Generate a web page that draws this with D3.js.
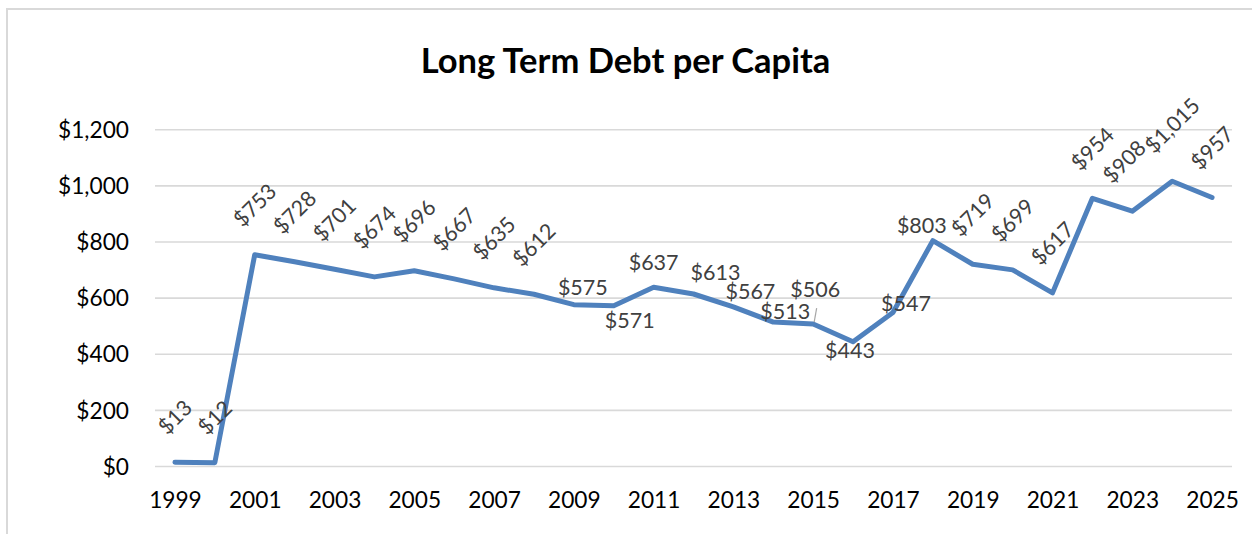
<!DOCTYPE html>
<html><head><meta charset="utf-8">
<script src="https://cdn.jsdelivr.net/npm/d3@7"></script>
<style>
body{margin:0;background:#fff}
svg{display:block;font-family:Lato,'Open Sans',sans-serif}
</style>
</head><body>
<svg id="chart" width="1252" height="534"></svg>
<script>
// ---- data ----
const years = [1999,2000,2001,2002,2003,2004,2005,2006,2007,2008,2009,2010,2011,2012,2013,2014,2015,2016,2017,2018,2019,2020,2021,2022,2023,2024,2025];
const debtPerCapita = [13,12,753,728,701,674,696,667,635,612,575,571,637,613,567,513,506,443,547,803,719,699,617,954,908,1015,957];
const yTickValues = [0,200,400,600,800,1000,1200];
const xTickYears = [1999,2001,2003,2005,2007,2009,2011,2013,2015,2017,2019,2021,2023,2025];
const chartTitle = "Long Term Debt per Capita";

// ---- layout / style (not data) ----
const plot = {left:155, right:1232, top:129.3, bottom:466};
const lineColor = "#4f81bd";
const gridColor = "#d9d9d9";
const labelFs = 21.5, tickFs = 22.7;
// horizontal labels with offsets of their centre from the point; others are rotated
const horizLabels = {
  2009:{dx:9,dy:-17.5}, 2010:{dx:16,dy:14}, 2011:{dx:0,dy:-25}, 2012:{dx:22,dy:-22},
  2013:{dx:17,dy:-16}, 2014:{dx:12,dy:-10.5}, 2015:{dx:2,dy:-35,leader:true},
  2016:{dx:-3,dy:8.5}, 2017:{dx:13,dy:-9}, 2018:{dx:-11,dy:-15.5}
};
const rotShift = {2023:-8};

const svg = d3.select("#chart");
const fmt = d3.format("$,");

// border
svg.append("rect").attr("x",7).attr("y",9).attr("width",1400).attr("height",700)
  .attr("fill","#fff").attr("stroke",gridColor).attr("stroke-width",2);

const x = d3.scalePoint().domain(years).range([plot.left, plot.right]).padding(0.5);
const y = d3.scaleLinear().domain([0,1200]).range([plot.bottom, plot.top]);

// y axis with gridlines
const yAxis = svg.append("g").attr("transform",`translate(${plot.left},0)`)
  .call(d3.axisLeft(y).tickValues(yTickValues).tickFormat(fmt)
        .tickSize(-(plot.right-plot.left)).tickPadding(26));
yAxis.select(".domain").remove();
yAxis.selectAll(".tick line").attr("stroke",gridColor).attr("stroke-width",1.6);
yAxis.selectAll(".tick text").attr("font-size",tickFs).attr("fill","#000")
  .attr("font-family","Lato").attr("dy","0.36em");

// x axis
const xAxis = svg.append("g").attr("transform",`translate(0,${plot.bottom})`)
  .call(d3.axisBottom(x).tickValues(xTickYears).tickSize(0).tickFormat(d3.format("d")));
xAxis.select(".domain").remove();
xAxis.selectAll(".tick text").attr("font-size",tickFs).attr("fill","#000")
  .attr("font-family","Lato").attr("y",42).attr("dy",0);

// title
svg.append("text").attr("x",625.5).attr("y",72.5).attr("text-anchor","middle")
  .attr("font-size",34.5).attr("font-weight","bold").attr("fill","#000").text(chartTitle);

// line
const data = years.map((yr,i)=>({year:yr, value:debtPerCapita[i]}));
svg.append("path").datum(data)
  .attr("fill","none").attr("stroke",lineColor).attr("stroke-width",5)
  .attr("stroke-linejoin","round").attr("stroke-linecap","round")
  .attr("d", d3.line().x(d=>x(d.year)).y(d=>y(d.value)));

// data labels
const lg = svg.append("g").attr("font-size",labelFs).attr("fill","#404040");
data.forEach(d=>{
  const px = x(d.year), py = y(d.value);
  const h = horizLabels[d.year];
  if (h) {
    if (h.leader) {
      lg.append("line").attr("x1",px+3.5).attr("y1",py-16).attr("x2",px+1).attr("y2",py-2)
        .attr("stroke","#a6a6a6").attr("stroke-width",1.2);
    }
    lg.append("text").attr("x",px+h.dx).attr("y",py+h.dy).attr("dy","0.36em")
      .attr("text-anchor","middle").text(fmt(d.value));
  } else {
    const t = lg.append("text").attr("text-anchor","middle").attr("dy","0.36em").text(fmt(d.value));
    const w = t.node().getComputedTextLength();
    const half = (w + 0.8*labelFs)/(2*Math.SQRT2);
    const cx = px + (rotShift[d.year]||0), cy = py - 26 - half;
    t.attr("transform",`translate(${cx},${cy}) rotate(-45)`);
  }
});
</script>
</body></html>
